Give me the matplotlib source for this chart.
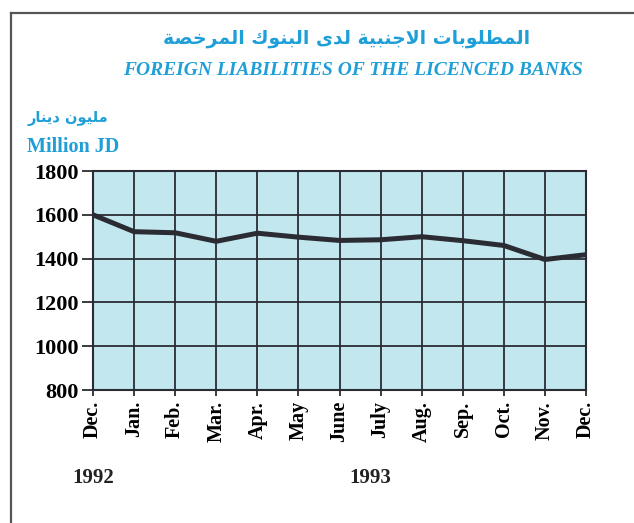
import matplotlib
matplotlib.use("Agg")
import matplotlib.pyplot as plt
from matplotlib.lines import Line2D


MONTHS = ["Dec.", "Jan.", "Feb.", "Mar.", "Apr.", "May", "June", "July",
          "Aug.", "Sep.", "Oct.", "Nov.", "Dec."]
LIABILITIES = [1600, 1523, 1518, 1479, 1516, 1498, 1483, 1486, 1500, 1482, 1460, 1396, 1418]
Y_TICKS = [800, 1000, 1200, 1400, 1600, 1800]
YEARS = ["1992", "1993"]

TITLE_AR = "المطلوبات الاجنبية لدى البنوك المرخصة"
TITLE_EN = "FOREIGN LIABILITIES OF THE LICENCED BANKS"
UNIT_AR = "مليون دينار"
UNIT_EN = "Million JD"

BLUE = "#1f9fd8"
BG = "#c2e7ef"
INK = "#2b2b33"

# presentation forms: (isolated, final, initial, medial); right-joining letters have 2
FORMS = {
    "ا": ("\uFE8D", "\uFE8E"), "ب": ("\uFE8F", "\uFE90", "\uFE91", "\uFE92"),
    "ة": ("\uFE93", "\uFE94"), "ت": ("\uFE95", "\uFE96", "\uFE97", "\uFE98"),
    "ج": ("\uFE9D", "\uFE9E", "\uFE9F", "\uFEA0"), "خ": ("\uFEA5", "\uFEA6", "\uFEA7", "\uFEA8"),
    "د": ("\uFEA9", "\uFEAA"), "ر": ("\uFEAD", "\uFEAE"),
    "ص": ("\uFEB9", "\uFEBA", "\uFEBB", "\uFEBC"), "ط": ("\uFEC1", "\uFEC2", "\uFEC3", "\uFEC4"),
    "ك": ("\uFED9", "\uFEDA", "\uFEDB", "\uFEDC"), "ل": ("\uFEDD", "\uFEDE", "\uFEDF", "\uFEE0"),
    "م": ("\uFEE1", "\uFEE2", "\uFEE3", "\uFEE4"), "ن": ("\uFEE5", "\uFEE6", "\uFEE7", "\uFEE8"),
    "و": ("\uFEED", "\uFEEE"), "ى": ("\uFEEF", "\uFEF0"),
    "ي": ("\uFEF1", "\uFEF2", "\uFEF3", "\uFEF4"),
}


def shape_arabic(text):
    """Very small Arabic shaper: contextual forms, lam-alef, visual order."""
    out = []
    i = 0
    n = len(text)
    while i < n:
        ch = text[i]
        if ch not in FORMS:
            out.append(ch)
            i += 1
            continue
        prev = text[i - 1] if i > 0 else ""
        joins_prev = prev in FORMS and len(FORMS[prev]) == 4
        if ch == "ل" and i + 1 < n and text[i + 1] == "ا":
            out.append("\uFEFC" if joins_prev else "\uFEFB")
            i += 2
            continue
        nxt = text[i + 1] if i + 1 < n else ""
        forms = FORMS[ch]
        joins_next = len(forms) == 4 and nxt in FORMS
        if joins_prev and joins_next:
            out.append(forms[3])
        elif joins_prev:
            out.append(forms[1])
        elif joins_next:
            out.append(forms[2])
        else:
            out.append(forms[0])
        i += 1
    return "".join(reversed(out))


fig = plt.figure(figsize=(6.34, 5.23), dpi=100)
ax = fig.add_axes([0.1467, 0.2543, 0.7776, 0.4187])

x = list(range(len(MONTHS)))
ax.plot(x, LIABILITIES, color=INK, linewidth=3.6, solid_joinstyle="round", zorder=3)

ax.set_facecolor(BG)
ax.set_xlim(0, len(MONTHS) - 1)
ax.set_ylim(Y_TICKS[0], Y_TICKS[-1])
ax.set_yticks(Y_TICKS)
ax.set_xticks(x)
ax.set_xticklabels(MONTHS, rotation=90, family="Liberation Serif",
                   fontweight="bold", fontsize=14.5)
ax.set_yticklabels([str(v) for v in Y_TICKS], family="Liberation Serif",
                   fontweight="bold", fontsize=16)
ax.grid(True, color=INK, linewidth=1.3)
ax.set_axisbelow(False)
for s in ax.spines.values():
    s.set_color(INK)
    s.set_linewidth(1.5)
ax.tick_params(axis="y", length=8, width=1.3, color=INK, pad=2)
ax.tick_params(axis="x", length=4, width=1.3, color=INK, pad=4)

# year captions under the month axis: 1992 under first Dec., 1993 mid-year
ax.annotate(YEARS[0], xy=(0, Y_TICKS[0]), xycoords="data",
            xytext=(0, -63), textcoords="offset points",
            ha="center", va="center", family="Liberation Serif",
            fontweight="bold", fontsize=15, color="#222222")
ax.annotate(YEARS[1], xy=(6.75, Y_TICKS[0]), xycoords="data",
            xytext=(0, -63), textcoords="offset points",
            ha="center", va="center", family="Liberation Serif",
            fontweight="bold", fontsize=15, color="#222222")

fig.text(0.547, 0.927, shape_arabic(TITLE_AR), ha="center", va="center",
         family="DejaVu Sans", fontweight="bold", fontsize=13.5, color=BLUE)
fig.text(0.557, 0.866, TITLE_EN, ha="center", va="center",
         family="Liberation Serif", fontweight="bold", style="italic",
         fontsize=14, color=BLUE)
fig.text(0.043, 0.773, shape_arabic(UNIT_AR), ha="left", va="center",
         family="DejaVu Sans", fontweight="bold", fontsize=10.5, color=BLUE)
fig.text(0.043, 0.719, UNIT_EN, ha="left", va="center",
         family="Liberation Serif", fontweight="bold", fontsize=14.5, color=BLUE)

# page frame (top and left edges visible in the scan)
fig.add_artist(Line2D([0.017, 1.0], [0.975, 0.975], transform=fig.transFigure,
                      color="#555555", linewidth=1.6))
fig.add_artist(Line2D([0.017, 0.017], [0.0, 0.975], transform=fig.transFigure,
                      color="#555555", linewidth=1.6))

fig.savefig("out.png", dpi=100)
